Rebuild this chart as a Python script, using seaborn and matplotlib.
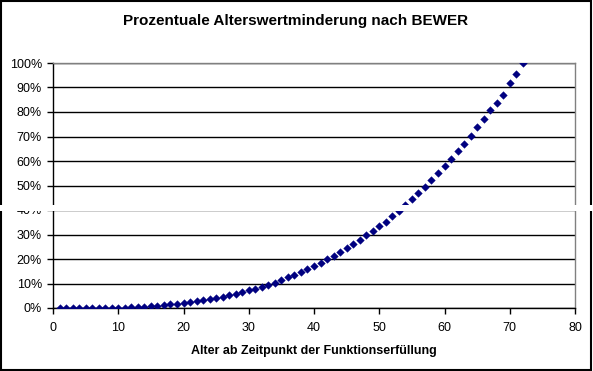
import numpy as np
import pandas as pd
import matplotlib
matplotlib.use("Agg")
import matplotlib.pyplot as plt
from matplotlib.patches import Rectangle
from matplotlib.ticker import PercentFormatter
import seaborn as sns

# Alter in Jahren und Wertminderung in Prozent
alter = list(range(1, 73))
minderung = [0.0, 0.0, 0.0, 0.0, 0.0, 0.0, 0.1, 0.1, 0.2, 0.2,
             0.2, 0.4, 0.6, 0.6, 0.8, 0.9, 1.2, 1.6, 1.8, 2.2,
             2.6, 2.9, 3.3, 3.6, 4.2, 4.5, 5.3, 5.7, 6.4, 7.2,
             7.8, 8.5, 9.4, 10.4, 11.4, 12.5, 13.4, 14.7, 15.8, 17.0,
             18.5, 19.8, 21.2, 22.8, 24.4, 26.1, 27.7, 29.6, 31.4, 33.4,
             35.2, 37.6, 39.7, 42.1, 44.5, 47.0, 49.4, 52.1, 55.0, 57.8,
             60.8, 64.0, 67.0, 70.2, 73.7, 77.2, 81.0, 83.5, 87.0, 91.7,
             95.5, 100.0]
x_ticks = [0, 10, 20, 30, 40, 50, 60, 70, 80]
y_ticks = [0, 10, 20, 30, 40, 50, 60, 70, 80, 90, 100]

df = pd.DataFrame({"alter": alter, "minderung": minderung})

sns.set_style("white")
plt.rcParams['font.family'] = ['Liberation Sans', 'DejaVu Sans']
plt.rcParams['text.color'] = 'black'
plt.rcParams['axes.labelcolor'] = 'black'
plt.rcParams['xtick.color'] = 'black'
plt.rcParams['ytick.color'] = 'black'

fig = plt.figure(figsize=(5.93, 3.71), dpi=100)
ax = fig.add_axes([53/593, 1 - 308/371, (575-53)/593, (308-63)/371])

sns.scatterplot(data=df, x="alter", y="minderung", ax=ax, marker="D", s=15,
                color="#000080", edgecolor="#000080", linewidth=0.3, zorder=3)

ax.set_xlim(0, 80)
ax.set_ylim(0, 100)
ax.set_xticks(x_ticks)
ax.set_yticks(y_ticks)
ax.yaxis.set_major_formatter(PercentFormatter(decimals=0))
ax.yaxis.grid(True, color="black", linewidth=1)
ax.xaxis.grid(False)
ax.set_axisbelow(True)

for s in ["left", "bottom"]:
    ax.spines[s].set_color("black")
    ax.spines[s].set_linewidth(1)
for s in ["top", "right"]:
    ax.spines[s].set_color("#808080")
    ax.spines[s].set_linewidth(1)

ax.tick_params(axis="both", direction="out", length=4, width=1, color="black",
               labelcolor="black", labelsize=9, bottom=True, left=True)
ax.tick_params(axis="y", pad=4)
ax.tick_params(axis="x", pad=6)

ax.set_xlabel("Alter ab Zeitpunkt der Funktionserfüllung", fontsize=9,
              fontweight="bold", labelpad=8, color="black")
ax.set_ylabel("")
fig.text(296/593, 1 - 21/371, "Prozentuale Alterswertminderung nach BEWER",
         ha="center", va="center", fontsize=11, fontweight="bold", color="black")

# Rahmen um die Grafik
fig.patches.append(Rectangle((0.002, 0.003), 0.995, 0.994, transform=fig.transFigure,
                             fill=False, edgecolor="black", linewidth=1.5))
# weisser Streifen wie im Original
fig.patches.append(Rectangle((0, 1 - 211/371), 1, 6/371, transform=fig.transFigure,
                             facecolor="white", edgecolor="none", zorder=10))

fig.savefig("out.png", dpi=100)
